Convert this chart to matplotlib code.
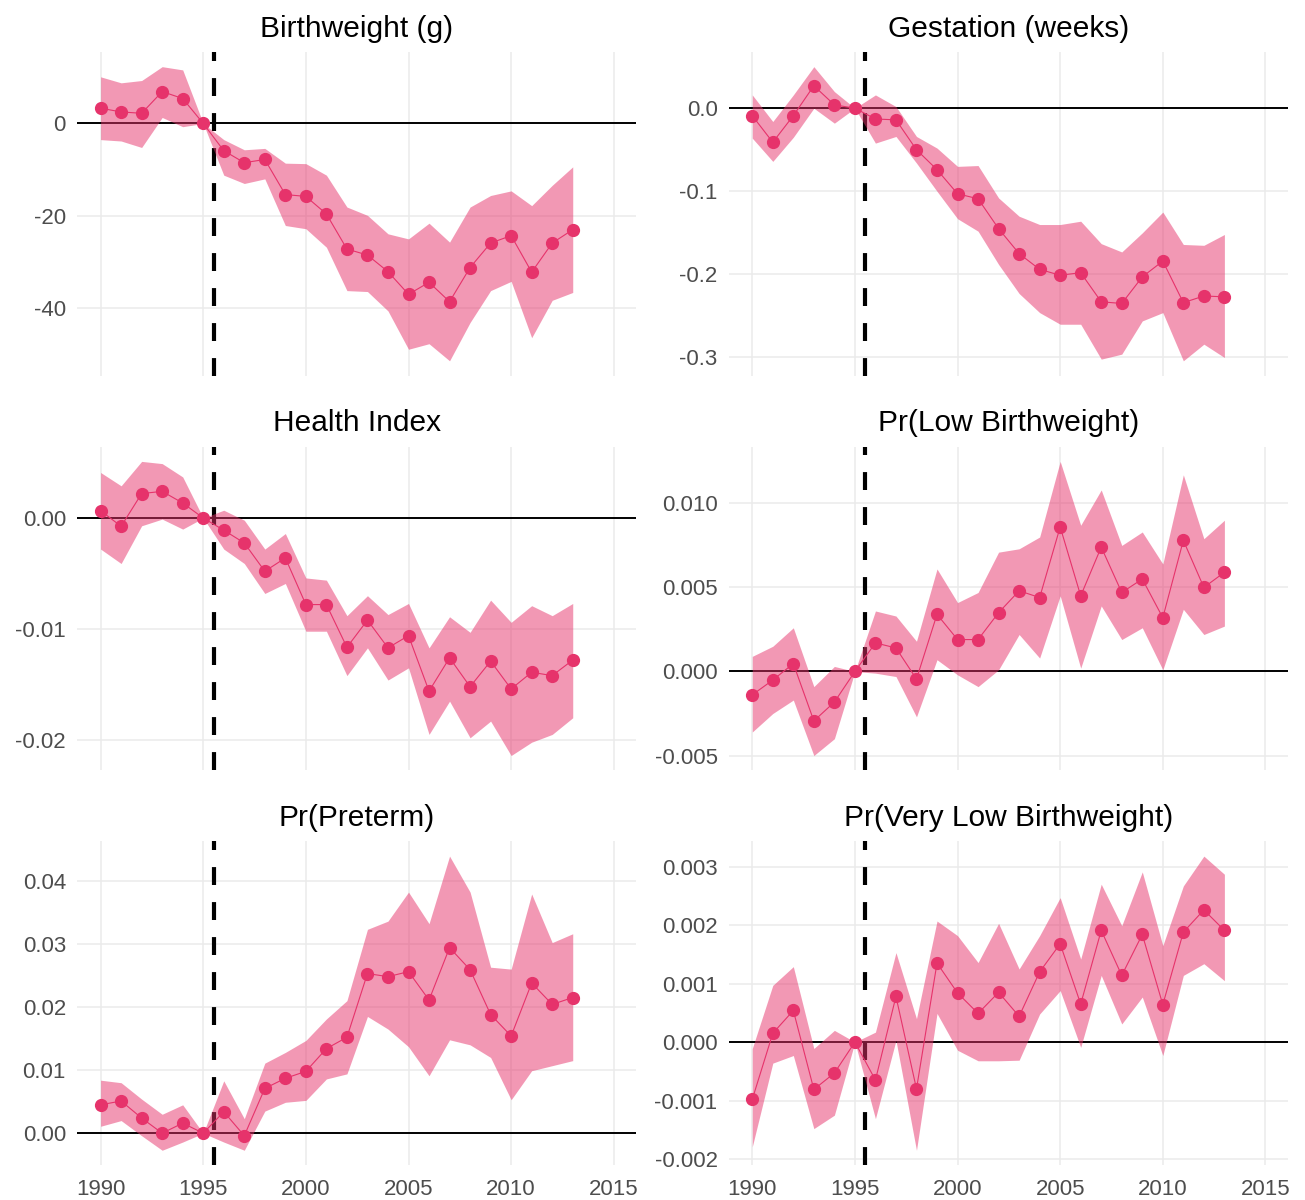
import numpy as np
import matplotlib.pyplot as plt
from matplotlib.ticker import FixedLocator, FixedFormatter

plt.rcParams['font.family'] = ['Liberation Sans', 'DejaVu Sans']
plt.rcParams['axes.unicode_minus'] = False

YEARS = list(range(1990, 2014))
REFORM_YEAR = 1995.5

TITLES = ['Birthweight (g)', 'Gestation (weeks)', 'Health Index',
          'Pr(Low Birthweight)', 'Pr(Preterm)', 'Pr(Very Low Birthweight)']

# event-study estimates and 95% bands
bw_est = [3.3, 2.5, 2.2, 6.9, 5.4, 0, -5.9, -8.5, -7.8, -15.4, -15.8, -19.6,
          -27.2, -28.5, -32.1, -37.0, -34.4, -38.6, -31.2, -25.9, -24.3, -32.2, -25.9, -23.0]
bw_hi = [10.1, 8.8, 9.3, 12.3, 11.6, 0, -3.5, -5.7, -5.4, -8.6, -8.7, -11.2,
         -18.1, -19.9, -23.9, -25.0, -21.6, -25.7, -18.1, -15.6, -14.6, -17.8, -13.4, -9.4]
bw_lo = [-3.5, -3.8, -5.2, 1.3, -0.7, 0, -11.2, -13.0, -12.0, -22.1, -22.8, -26.8,
         -36.2, -36.4, -40.6, -48.9, -47.7, -51.4, -43.1, -36.2, -34.2, -46.4, -38.3, -36.6]

gest_est = [-0.009, -0.041, -0.009, 0.027, 0.004, 0, -0.013, -0.014, -0.050, -0.074,
            -0.103, -0.109, -0.145, -0.175, -0.194, -0.201, -0.198, -0.233, -0.235,
            -0.203, -0.184, -0.234, -0.226, -0.227]
gest_hi = [0.016, -0.016, 0.016, 0.050, 0.020, 0, 0.016, 0.002, -0.034, -0.048,
           -0.070, -0.069, -0.108, -0.130, -0.140, -0.140, -0.136, -0.163, -0.173,
           -0.150, -0.125, -0.164, -0.165, -0.152]
gest_lo = [-0.036, -0.064, -0.035, 0.000, -0.018, 0, -0.042, -0.034, -0.066, -0.100,
           -0.133, -0.148, -0.188, -0.223, -0.246, -0.260, -0.260, -0.302, -0.296,
           -0.256, -0.246, -0.304, -0.284, -0.300]

hi_est = [0.00066, -0.00075, 0.0022, 0.0024, 0.00135, 0, -0.0011, -0.00225, -0.0048,
          -0.0036, -0.0078, -0.0078, -0.01165, -0.0092, -0.0117, -0.0106, -0.0156,
          -0.0126, -0.0152, -0.0129, -0.0154, -0.0139, -0.0142, -0.0128]
hi_hi = [0.0041, 0.0029, 0.0051, 0.0049, 0.0037, 0, 0.0007, -0.0002, -0.0028, -0.0014,
         -0.0054, -0.0056, -0.0088, -0.0070, -0.0087, -0.0077, -0.0117, -0.0089, -0.0103,
         -0.0074, -0.0094, -0.0079, -0.0088, -0.0077]
hi_lo = [-0.0028, -0.0041, -0.0007, -0.0001, -0.0010, 0, -0.0028, -0.0041, -0.0068,
         -0.0059, -0.0102, -0.0102, -0.0142, -0.0117, -0.0146, -0.0135, -0.0195, -0.0165,
         -0.0198, -0.0183, -0.0214, -0.0202, -0.0195, -0.0180]

lbw_est = [-0.00139, -0.00051, 0.00047, -0.00294, -0.00182, 0, 0.0017, 0.0014, -0.00045,
           0.0034, 0.0019, 0.0019, 0.0035, 0.0048, 0.0044, 0.0086, 0.0045, 0.0074, 0.0047,
           0.0055, 0.0032, 0.0078, 0.0050, 0.0059]
lbw_hi = [0.0009, 0.0015, 0.0026, -0.0009, 0.0003, 0, 0.0036, 0.0033, 0.0018, 0.0061,
          0.0041, 0.0047, 0.0071, 0.0073, 0.0080, 0.0125, 0.0087, 0.0108, 0.0075, 0.0083,
          0.0064, 0.0117, 0.0079, 0.0090]
lbw_lo = [-0.0036, -0.0025, -0.0017, -0.0050, -0.0040, 0, -0.0001, -0.0003, -0.0027,
          0.0007, -0.0002, -0.0009, 0.0001, 0.0022, 0.0008, 0.0045, 0.0002, 0.0039, 0.0019,
          0.0026, 0.0001, 0.0037, 0.0022, 0.0027]

pre_est = [0.0045, 0.0051, 0.0024, 0.0000, 0.0016, 0, 0.0034, -0.0004, 0.0071, 0.0087,
           0.0098, 0.0134, 0.0152, 0.0253, 0.0248, 0.0256, 0.0211, 0.0294, 0.0259, 0.0188,
           0.0154, 0.0238, 0.0204, 0.0215]
pre_hi = [0.0084, 0.0080, 0.0054, 0.0030, 0.0045, 0, 0.0083, 0.0023, 0.0111, 0.0128,
          0.0147, 0.0181, 0.0210, 0.0323, 0.0336, 0.0382, 0.0332, 0.0439, 0.0382, 0.0263,
          0.0260, 0.0379, 0.0302, 0.0316]
pre_lo = [0.0011, 0.0020, -0.0004, -0.0027, -0.0014, 0, -0.0014, -0.0027, 0.0035, 0.0049,
          0.0052, 0.0086, 0.0094, 0.0185, 0.0165, 0.0137, 0.0091, 0.0148, 0.0140, 0.0120,
          0.0053, 0.0099, 0.0107, 0.0115]

vlbw_est = [-0.00098, 0.00015, 0.00054, -0.00081, -0.00053, 0, -0.00065, 0.00078,
            -0.00080, 0.00135, 0.00084, 0.00049, 0.00085, 0.00044, 0.00120, 0.00168,
            0.00065, 0.00191, 0.00114, 0.00184, 0.00064, 0.00188, 0.00226, 0.00191]
vlbw_hi = [-0.00011, 0.00097, 0.00129, -0.00011, 0.00020, 0, 0.00017, 0.00153, 0.00040,
           0.00207, 0.00182, 0.00136, 0.00203, 0.00125, 0.00182, 0.00247, 0.00142,
           0.00270, 0.00199, 0.00291, 0.00165, 0.00267, 0.00318, 0.00287]
vlbw_lo = [-0.00179, -0.00036, -0.00023, -0.00148, -0.00125, 0, -0.00131, 0.00003,
           -0.00185, 0.00049, -0.00014, -0.00032, -0.00032, -0.00031, 0.00048, 0.00088,
           -0.00009, 0.00114, 0.00031, 0.00077, -0.00023, 0.00114, 0.00134, 0.00105]

Y_TICKS = [
    [-40, -20, 0],
    [-0.3, -0.2, -0.1, 0.0],
    [-0.02, -0.01, 0.00],
    [-0.005, 0.000, 0.005, 0.010],
    [0.00, 0.01, 0.02, 0.03, 0.04],
    [-0.002, -0.001, 0.000, 0.001, 0.002, 0.003],
]
Y_LABELS = [
    ['-40', '-20', '0'],
    ['-0.3', '-0.2', '-0.1', '0.0'],
    ['-0.02', '-0.01', '0.00'],
    ['-0.005', '0.000', '0.005', '0.010'],
    ['0.00', '0.01', '0.02', '0.03', '0.04'],
    ['-0.002', '-0.001', '0.000', '0.001', '0.002', '0.003'],
]
X_TICKS = [1990, 1995, 2000, 2005, 2010, 2015]

POINT_COLOR = '#E6336B'
GRID_COLOR = '#EBEBEB'


def draw_panel(ax, title, est, lo, hi, yticks, ylabels, show_x):
    ax.axhline(0, color='black', lw=1.4, zorder=2)
    ax.axvline(REFORM_YEAR, color='black', lw=3, dashes=(4.3, 4.1), zorder=2)
    ax.fill_between(YEARS, lo, hi, color=POINT_COLOR, alpha=0.5, lw=0, zorder=3)
    ax.plot(YEARS, est, color=POINT_COLOR, lw=0.8, marker='o', ms=8.5,
            mec=POINT_COLOR, zorder=4)

    ax.set_xlim(1988.85, 2016.1)
    ax.xaxis.set_major_locator(FixedLocator(X_TICKS))
    ax.yaxis.set_major_locator(FixedLocator(yticks))
    ax.yaxis.set_major_formatter(FixedFormatter(ylabels))
    ax.grid(True, color=GRID_COLOR, lw=1.1, zorder=0)
    ax.set_axisbelow(True)
    for s in ax.spines.values():
        s.set_visible(False)
    ax.tick_params(length=0, labelsize=16, labelcolor='#4D4D4D')
    ax.tick_params(axis='y', pad=8)
    ax.tick_params(axis='x', pad=10, labelbottom=show_x)
    ax.set_title(title, fontsize=21.5, pad=11)


def main():
    fig, axes = plt.subplots(3, 2, figsize=(13.05, 12), dpi=100)
    fig.subplots_adjust(left=0.059, right=0.987, top=0.9567, bottom=0.0292,
                        wspace=0.165, hspace=0.22)

    panels = [
        (bw_est, bw_lo, bw_hi),
        (gest_est, gest_lo, gest_hi),
        (hi_est, hi_lo, hi_hi),
        (lbw_est, lbw_lo, lbw_hi),
        (pre_est, pre_lo, pre_hi),
        (vlbw_est, vlbw_lo, vlbw_hi),
    ]
    for i, ax in enumerate(axes.flat):
        est, lo, hi = panels[i]
        draw_panel(ax, TITLES[i], est, lo, hi, Y_TICKS[i], Y_LABELS[i], show_x=(i >= 4))

    fig.savefig('out.png', dpi=100, facecolor='white')
    plt.close(fig)


if __name__ == "__main__":
    main()
